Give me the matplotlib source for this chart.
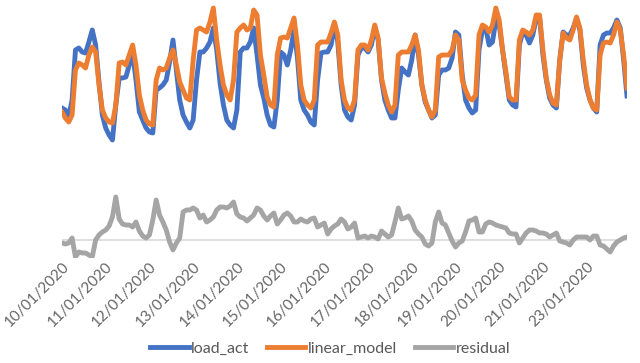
import numpy as np
import pandas as pd
import matplotlib
matplotlib.use('Agg')
import matplotlib.pyplot as plt

plt.rcParams['font.family'] = ['Lato', 'DejaVu Sans']

# 2-hourly samples starting 10/01/2020 00:00
start = pd.Timestamp('2020-01-10 00:00')
hours = np.arange(0, 337, 2)

load_act = [
    132, 130, 124, 140, 190, 192, 188, 187, 198, 210, 195, 158,
    125, 112, 105, 100, 135, 162, 162, 163, 175, 187, 160, 128,
    120, 112, 108, 107, 150, 152, 155, 160, 178, 200, 170, 140,
    125, 118, 112, 120, 160, 188, 188, 192, 198, 212, 190, 157,
    135, 120, 115, 112, 130, 188, 192, 192, 198, 212, 185, 155,
    142, 125, 115, 113, 140, 188, 185, 175, 190, 210, 183, 140,
    130, 125, 118, 115, 160, 187, 188, 188, 195, 215, 198, 155,
    130, 123, 120, 135, 185, 192, 192, 188, 195, 213, 200, 160,
    140, 130, 122, 122, 150, 172, 168, 165, 180, 205, 185, 155,
    138, 130, 122, 125, 165, 170, 170, 172, 182, 208, 205, 165,
    140, 132, 127, 130, 190, 210, 212, 195, 198, 220, 215, 190,
    165, 140, 135, 133, 195, 208, 205, 197, 205, 222, 223, 185,
    160, 142, 135, 132, 180, 208, 205, 205, 212, 222, 210, 175,
    152, 140, 132, 128, 195, 205, 207, 207, 212, 220, 212, 180, 144]

linear_model = [
    128, 122, 118, 125, 170, 177, 175, 172, 185, 193, 188, 155,
    130, 122, 118, 117, 135, 177, 178, 175, 185, 195, 175, 145,
    130, 120, 116, 115, 160, 172, 170, 172, 182, 190, 175, 158,
    150, 142, 140, 180, 210, 212, 210, 208, 218, 232, 200, 175,
    155, 145, 140, 160, 208, 212, 215, 210, 212, 230, 225, 185,
    165, 143, 135, 133, 185, 202, 203, 202, 212, 222, 195, 155,
    140, 135, 132, 140, 195, 198, 198, 198, 207, 218, 205, 160,
    140, 132, 130, 140, 190, 195, 195, 190, 200, 215, 202, 162,
    147, 135, 128, 135, 185, 188, 188, 188, 195, 205, 190, 155,
    140, 130, 123, 130, 183, 185, 185, 185, 190, 205, 200, 160,
    150, 142, 140, 145, 205, 215, 213, 208, 215, 232, 220, 190,
    168, 143, 140, 140, 200, 210, 208, 205, 210, 225, 225, 190,
    162, 145, 137, 135, 180, 207, 202, 200, 210, 223, 212, 180,
    155, 140, 132, 130, 185, 197, 198, 197, 205, 218, 210, 185, 152]

residual = [
    -3, -4, -3, 2, -17, -12, -13, -13, -15, -17, 0, 5,
    8, 10, 14, 23, 43, 21, 16, 15, 15, 13, 18, 9,
    4, 2, 5, 20, 40, 25, 18, 10, -2, -10, -3, 2,
    28, 30, 30, 32, 30, 22, 25, 18, 20, 23, 30, 33,
    33, 32, 34, 38, 26, 23, 22, 19, 22, 25, 32, 30,
    24, 20, 24, 27, 16, 20, 25, 27, 24, 18, 18, 21,
    19, 18, 21, 22, 13, 15, 17, 6, 11, 14, 16, 21,
    18, 11, 13, 17, 2, 3, 4, 2, 4, 3, 1, 9,
    6, 3, 5, 18, 32, 21, 22, 24, 19, 10, 6, 3,
    -4, -6, -3, 18, 28, 17, 15, 7, -1, -7, -3, -1,
    8, 19, 20, 22, 8, 8, 16, 18, 17, 15, 14, 13,
    12, 7, 6, 6, -3, 2, 7, 10, 10, 9, 7, 7,
    6, 3, 5, 7, -1, -2, -3, -5, 0, 3, 3, 3,
    3, 0, 4, 4, -5, -6, -9, -12, -6, -2, 0, 2, 3]

# category labels every 26 hours
tick_hours = np.arange(0, 313, 26)
tick_labels = [(start + pd.Timedelta(hours=int(h))).strftime('%d/%m/%Y') for h in tick_hours]

fig = plt.figure(figsize=(6.4, 3.63), dpi=100)
ax = fig.add_axes([62 / 640, 1 - 258 / 363, 565 / 640, 258 / 363])

ax.axhline(0, color='#d9d9d9', linewidth=1.2, zorder=1)
ax.plot(hours, load_act, color='#4472c4', linewidth=3.5, label='load_act', zorder=2)
ax.plot(hours, linear_model, color='#ed7d31', linewidth=3.5, label='linear_model', zorder=3)
ax.plot(hours, residual, color='#a5a5a5', linewidth=3.5, label='residual', zorder=4)

ax.set_xlim(0, 336)
ax.set_ylim(-18, 240)
ax.set_yticks([])
ax.set_xticks(tick_hours)
ax.set_xticklabels(tick_labels, rotation=45, ha='right', va='top',
                   rotation_mode='anchor', fontsize=11, color='#666666')
ax.tick_params(axis='x', length=0, pad=1)
for s in ax.spines.values():
    s.set_visible(False)

fig.legend(loc='center', bbox_to_anchor=(0.516, 0.04), ncol=3, frameon=False,
           fontsize=11.5, labelcolor='#595959', handlelength=2.4,
           handletextpad=0.15, columnspacing=1.1)

fig.savefig('out.png', dpi=100)
